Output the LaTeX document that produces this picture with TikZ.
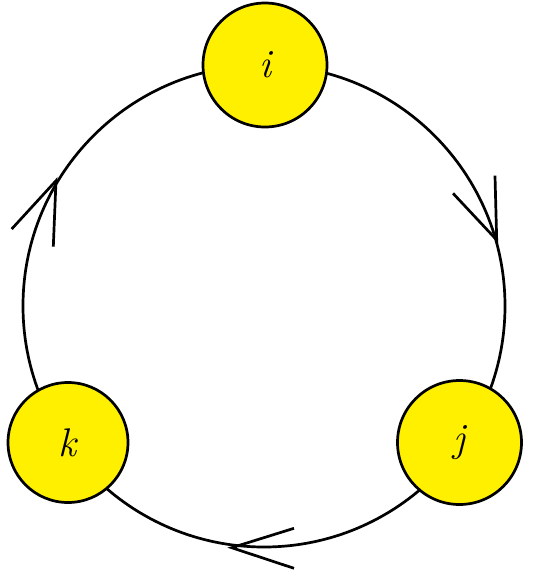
\documentclass[tikz,border=0pt]{standalone}
\usepackage{fontspec}
\begin{document}
\begin{tikzpicture}[x=1pt,y=-1pt,
  ln/.style={line width=2.7pt,black},
  vertex/.style={circle,draw=black,line width=2.7pt,fill=nodeyellow,minimum size=124pt,inner sep=0pt,font=\fontsize{40}{42}\selectfont\itshape},
  barb/.style={line width=2.7pt,black,line cap=butt}]
\definecolor{nodeyellow}{RGB}{255,240,0}
\useasboundingbox (0,0) rectangle (545,582);
\coordinate (c) at (264,306);
\draw[ln] (c) circle (241);
\node[vertex] (i) at (265,65) {i};
\node[vertex] (j) at (459.5,442.5) {j};
\node[vertex,minimum size=120pt] (k) at (68,442.5) {k};
% arrowheads
\coordinate (t1) at (496.7,240);
\coordinate (t1a) at (453,193.3);
\coordinate (t1b) at (495,175.7);
\draw[barb] (t1a) -- (t1) -- (t1b);
\coordinate (t2) at (56,180.7);
\coordinate (t2a) at (11.7,229);
\coordinate (t2b) at (53.3,246.7);
\draw[barb] (t2a) -- (t2) -- (t2b);
\coordinate (t3) at (231.7,547.7);
\coordinate (t3a) at (294,528.3);
\coordinate (t3b) at (294,568.3);
\draw[barb] (t3a) -- (t3) -- (t3b);
\end{tikzpicture}
\end{document}
